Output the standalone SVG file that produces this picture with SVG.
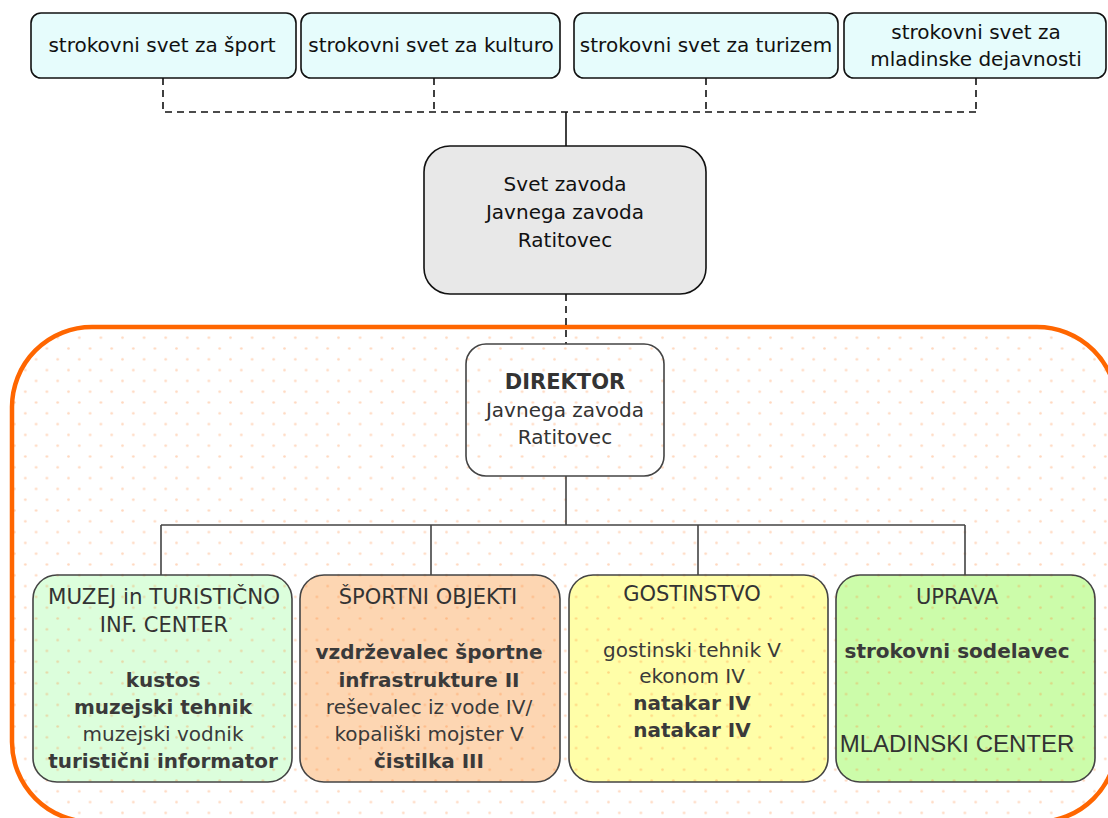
<svg xmlns="http://www.w3.org/2000/svg" width="1108" height="818" viewBox="0 0 1108 818">
<defs>
<pattern id="dots" patternUnits="userSpaceOnUse" x="73.9" y="332.3" width="21.6" height="21.6">
<circle cx="5.4" cy="5.4" r="1.3" fill="#ff7f2a" fill-opacity="0.3"/>
<circle cx="16.2" cy="16.2" r="1.3" fill="#ff7f2a" fill-opacity="0.3"/>
</pattern>
<style>
text{font-family:"DejaVu Sans","Liberation Sans",sans-serif;text-anchor:middle}
.top rect{fill:#e6fcfc;stroke:#111;stroke-width:1.6}
.top text{font-size:20px;fill:#111}
.svet text{font-size:20px;fill:#111}
.dir text{font-size:20px;fill:#333}
.dir .b{font-size:21px}
.unit text{font-size:20px;fill:#3a3a3a}
.b{font-weight:bold}
.unit .hd{fill:#333;font-size:21px}
.unit .ov{fill:url(#dots);stroke:#444;stroke-width:1.6}
.dash{fill:none;stroke:#111;stroke-width:1.6;stroke-dasharray:7 5}
.solid{fill:none;stroke:#111;stroke-width:1.6}
.org{fill:none;stroke:#444;stroke-width:1.6}
</style>
</defs>
<rect width="1108" height="818" fill="#fff"/>
<g id="container">
<rect x="12" y="327" width="1105" height="495" rx="80" fill="#fff"/>
<rect x="12" y="327" width="1105" height="495" rx="80" fill="url(#dots)" stroke="#ff6600" stroke-width="4.5"/>
</g>
<g id="connectors">
<path class="dash" d="M163 78V112H976M434 78V112M706 78V112M976 78V112"/>
<path class="solid" d="M566 112V146"/>
<path class="dash" d="M566 294V344"/>
<path class="org" d="M566 476V525M161 525H965M161 525V575M431 525V575M698 525V575M965 525V575"/>
</g>
<g id="sv-sport" class="top"><rect x="31" y="13" width="265" height="65" rx="10"/><text x="162" y="52">strokovni svet za šport</text></g>
<g id="sv-kultura" class="top"><rect x="301" y="13" width="259" height="65" rx="10"/><text x="431" y="52">strokovni svet za kulturo</text></g>
<g id="sv-turizem" class="top"><rect x="574" y="13" width="264" height="65" rx="10"/><text x="706" y="52">strokovni svet za turizem</text></g>
<g id="sv-mladina" class="top"><rect x="844" y="13" width="262" height="65" rx="10"/><text x="976" y="39">strokovni svet za</text><text x="976" y="66">mladinske dejavnosti</text></g>
<g id="svet" class="svet"><rect x="424" y="146" width="282" height="148" rx="26" fill="#e8e8e8" stroke="#111" stroke-width="1.6"/>
<text x="565" y="191">Svet zavoda</text><text x="565" y="219">Javnega zavoda</text><text x="565" y="247">Ratitovec</text></g>
<g id="direktor" class="dir"><rect x="466" y="344" width="198" height="132" rx="20" fill="none" stroke="#444" stroke-width="1.6"/>
<text x="565" y="389" class="b">DIREKTOR</text><text x="565" y="417">Javnega zavoda</text><text x="565" y="444">Ratitovec</text></g>
<g id="muzej" class="unit"><rect x="33" y="575" width="259" height="207" rx="24" fill="#dcfedc"/><rect class="ov" x="33" y="575" width="259" height="207" rx="24"/>
<text x="164" y="604" class="hd" textLength="232" lengthAdjust="spacingAndGlyphs">MUZEJ in TURISTIČNO</text><text x="164" y="632" class="hd">INF. CENTER</text>
<text x="163" y="687" class="b">kustos</text><text x="163" y="714" class="b">muzejski tehnik</text><text x="163" y="741">muzejski vodnik</text><text x="163" y="768" class="b">turistični informator</text></g>
<g id="sport" class="unit"><rect x="300" y="575" width="260" height="207" rx="24" fill="#fdd6b2"/><rect class="ov" x="300" y="575" width="260" height="207" rx="24"/>
<text x="428" y="604" class="hd">ŠPORTNI OBJEKTI</text>
<text x="429" y="659" class="b">vzdrževalec športne</text><text x="429" y="687" class="b">infrastrukture II</text><text x="429" y="714">reševalec iz vode IV/</text><text x="429" y="741">kopališki mojster V</text><text x="429" y="768" class="b">čistilka III</text></g>
<g id="gostinstvo" class="unit"><rect x="569" y="575" width="259" height="207" rx="24" fill="#fffea8"/><rect class="ov" x="569" y="575" width="259" height="207" rx="24"/>
<text x="692" y="601" class="hd">GOSTINSTVO</text>
<text x="692" y="657">gostinski tehnik V</text><text x="692" y="683">ekonom IV</text><text x="692" y="710" class="b">natakar IV</text><text x="692" y="737" class="b">natakar IV</text></g>
<g id="uprava" class="unit"><rect x="836" y="575" width="259" height="207" rx="24" fill="#ccfcaa"/><rect class="ov" x="836" y="575" width="259" height="207" rx="24"/>
<text x="957" y="604" class="hd">UPRAVA</text>
<text x="957" y="658" class="b">strokovni sodelavec</text>
<text x="957" y="752" class="hd" style="font-family:'Liberation Sans',Arial,sans-serif;font-size:24px">MLADINSKI CENTER</text></g>
</svg>
